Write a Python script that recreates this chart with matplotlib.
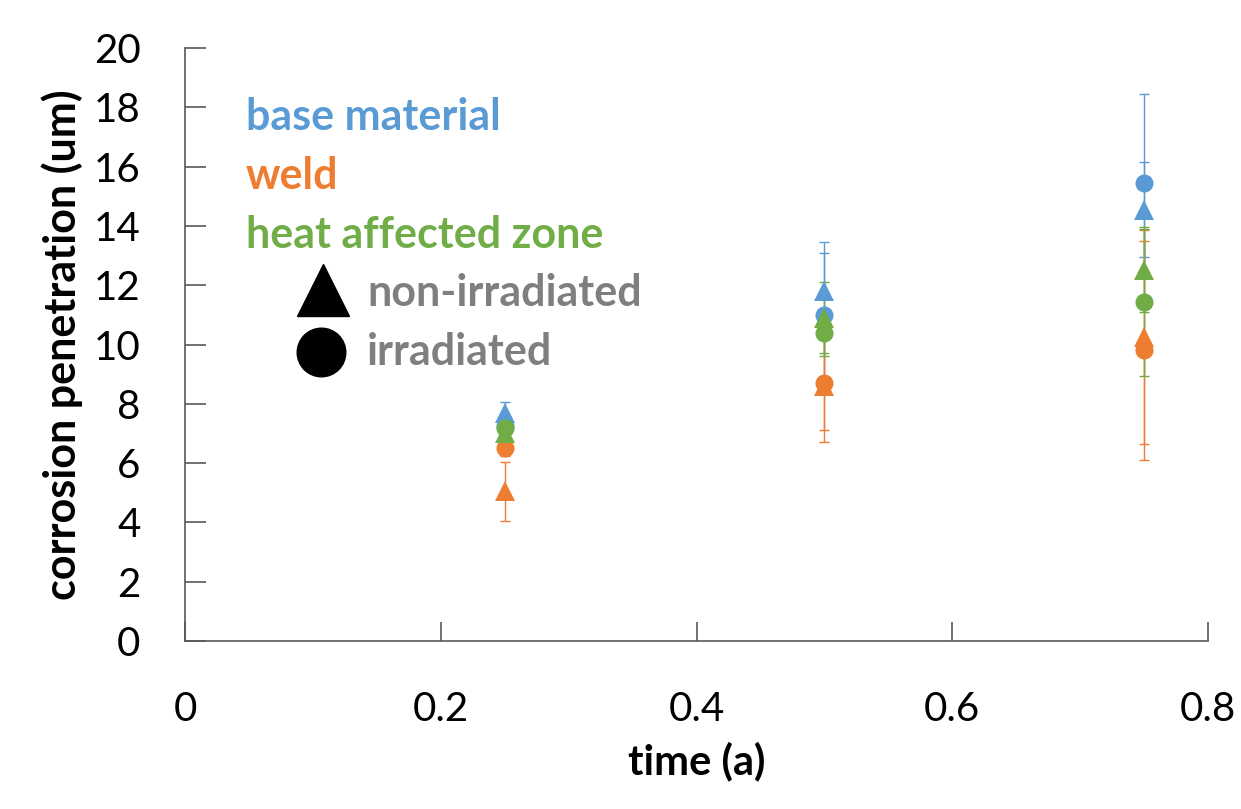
import numpy as np
import matplotlib.pyplot as plt

plt.rcParams['font.family'] = ['Lato', 'DejaVu Sans']

# data
time = [0.25, 0.5, 0.75]

base_non = [7.7, 11.8, 14.55]
base_non_err = [0.35, 1.3, 1.6]
base_irr = [7.25, 11.0, 15.45]
base_irr_err = [0.3, 2.45, 3.0]

weld_non = [5.05, 8.6, 10.25]
weld_non_err = [1.0, 1.9, 3.6]
weld_irr = [6.5, 8.7, 9.8]
weld_irr_err = [0.25, 1.6, 3.7]

haz_non = [7.0, 10.9, 12.5]
haz_non_err = [0.4, 1.2, 1.4]
haz_irr = [7.2, 10.4, 11.45]
haz_irr_err = [0.3, 0.8, 2.5]

blue = '#5B9BD5'
orange = '#ED7D31'
green = '#70AD47'
gray = '#7F7F7F'

fig = plt.figure(figsize=(12.41, 8.09), dpi=100)
ax = fig.add_axes([185/1241, 1-641/809, (1208-185)/1241, (641-48)/809])

series = [
    (base_irr, base_irr_err, blue, 'o'),
    (base_non, base_non_err, blue, '^'),
    (weld_non, weld_non_err, orange, '^'),
    (weld_irr, weld_irr_err, orange, 'o'),
    (haz_non, haz_non_err, green, '^'),
    (haz_irr, haz_irr_err, green, 'o'),
]
for vals, err, c, m in series:
    _, caps, _ = ax.errorbar(time, vals, yerr=err, fmt=m, color=c,
                             ms=13 if m == 'o' else 14, mew=0,
                             ecolor=c, elinewidth=1.0, capsize=3.5)
    for cap in caps:
        cap.set_markeredgewidth(1.0)
        cap.set_markeredgecolor(c)

ax.set_xlim(0, 0.8)
ax.set_ylim(0, 20)
ax.set_xticks([0, 0.2, 0.4, 0.6, 0.8])
ax.set_xticklabels(['0', '0.2', '0.4', '0.6', '0.8'])
ax.set_yticks(np.arange(0, 21, 2))
ax.tick_params(direction='in', width=1.2, color='#595959', labelsize=29)
ax.tick_params(axis='x', length=14, pad=36)
ax.tick_params(axis='y', length=15, pad=32)
for s in ['top', 'right']:
    ax.spines[s].set_visible(False)
for s in ['left', 'bottom']:
    ax.spines[s].set_color('#595959')
    ax.spines[s].set_linewidth(1.2)

ax.set_xlabel('time (a)', fontsize=30, fontweight='bold', labelpad=10)
ax.set_ylabel('corrosion penetration (um)', fontsize=31, fontweight='bold', labelpad=8)

# legend drawn as text
def px(x, y):
    return x/1241, 1-y/809
fig.text(*px(246, 117), 'base material', color=blue, fontsize=31, fontweight='bold', va='center')
fig.text(*px(246, 176), 'weld', color=orange, fontsize=31, fontweight='bold', va='center')
fig.text(*px(246, 235), 'heat affected zone', color=green, fontsize=31, fontweight='bold', va='center')
fig.text(*px(367, 293), 'non-irradiated', color=gray, fontsize=31, fontweight='bold', va='center')
fig.text(*px(367, 352), 'irradiated', color=gray, fontsize=31, fontweight='bold', va='center')
ax.plot([323/1241], [1-290/809], marker='^', ms=38, color='black', transform=fig.transFigure, clip_on=False)
ax.plot([321/1241], [1-352/809], marker='o', ms=35, color='black', transform=fig.transFigure, clip_on=False)

fig.savefig('out.png', dpi=100)
